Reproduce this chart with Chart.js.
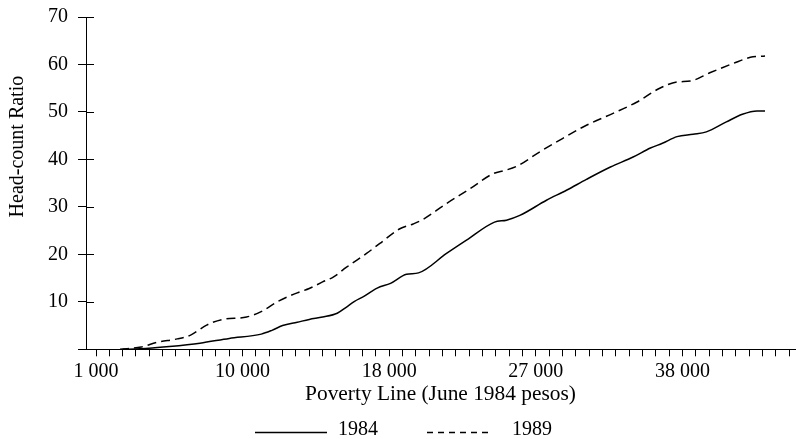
<!DOCTYPE html>
<html>
<head>
<meta charset="utf-8">
<script src="https://cdn.jsdelivr.net/npm/chart.js@4"></script>
<style>
html,body{margin:0;padding:0;background:#fff;}
#wrap{width:796px;height:439px;}
</style>
</head>
<body>
<div id="wrap"><canvas id="c" width="796" height="439"></canvas></div>
<script>
// x positions are in axis-tick units (one unit per minor tick; labelled ticks every 11 units)
const tickLabels = ['1 000', '10 000', '18 000', '27 000', '38 000'];
const tickStep = 11;
const tickCount = 53;

const x1984 = [2.0, 3.3, 5.5, 7.8, 10.0, 12.4, 13.2, 14.0, 15.1, 16.0, 17.0, 18.1, 18.8, 19.4, 20.0, 21.1, 22.1, 23.3, 24.2, 26.3, 27.8, 29.9, 30.8, 31.8, 33.8, 35.3, 36.8, 38.6, 40.3, 41.6, 42.5, 43.6, 44.8, 45.8, 47.3, 48.5, 49.6, 50.2];
const y1984 = [0, 0.1, 0.6, 1.3, 2.3, 3.2, 4.0, 5.0, 5.7, 6.3, 6.8, 7.6, 8.9, 10.1, 11.0, 12.9, 13.9, 15.8, 16.1, 20.2, 23.0, 26.8, 27.2, 28.2, 31.4, 33.5, 35.8, 38.4, 40.5, 42.4, 43.4, 44.8, 45.3, 45.8, 47.9, 49.5, 50.2, 50.2];

const x1989 = [1.8, 3.4, 4.6, 6.1, 7.1, 8.3, 9.5, 11.3, 12.5, 13.6, 15.1, 16.0, 17.0, 17.8, 18.8, 20.3, 21.3, 22.8, 23.8, 24.5, 26.3, 28.1, 29.8, 30.7, 31.6, 33.3, 35.0, 36.8, 38.8, 40.6, 42.3, 43.6, 44.6, 46.1, 47.8, 49.1, 50.2];
const y1989 = [0, 0.5, 1.5, 2.2, 3.0, 5.1, 6.3, 6.8, 8.1, 10.0, 11.9, 12.8, 14.2, 15.2, 17.3, 20.2, 22.3, 25.4, 26.4, 27.3, 30.7, 33.9, 37.0, 37.7, 38.6, 41.6, 44.4, 47.2, 49.7, 52.1, 55.0, 56.3, 56.5, 58.3, 60.2, 61.5, 61.8];

const seriesLabels = ['1984', '1989'];
const yTicks = [0, 10, 20, 30, 40, 50, 60, 70];

const INK = '#000000';
const FAMILY = "'Liberation Serif', 'Times New Roman', serif";
const FONT = {family: FAMILY, size: 20, weight: 'normal'};
Chart.defaults.font = FONT;
Chart.defaults.color = INK;

function pts(xs, ys) { return xs.map((x, i) => ({x: x, y: ys[i]})); }

const innerTicks = {
  id: 'innerTicks',
  afterDraw(chart) {
    const s = chart.scales.y, c = chart.ctx;
    c.save();
    c.strokeStyle = INK; c.lineWidth = 1;
    c.beginPath();
    s.ticks.forEach(t => {
      if (t.value === 0) return;
      const py = Math.round(s.getPixelForValue(t.value)) + 0.5;
      c.moveTo(s.right, py); c.lineTo(s.right + 8, py);
    });
    c.stroke();
    c.restore();
  }
};

const yTitle = {
  id: 'yTitle',
  afterDraw(chart) {
    const c = chart.ctx, a = chart.chartArea;
    c.save();
    c.font = '20px ' + FAMILY;
    c.fillStyle = INK;
    c.textAlign = 'center'; c.textBaseline = 'middle';
    c.translate(18, a.top + (a.bottom - a.top) * 0.39);
    c.rotate(-Math.PI / 2);
    c.fillText('Head-count Ratio', 0, 0);
    c.restore();
  }
};

const bottomLegend = {
  id: 'bottomLegend',
  afterDraw(chart) {
    const c = chart.ctx;
    const items = chart.data.datasets.map((d, i) => ({
      text: d.label, dash: i === 0 ? [] : [6, 5], len: i === 0 ? 72 : 64, gap: i === 0 ? 11 : 21
    }));
    c.save();
    c.font = '20px ' + FAMILY;
    const itemGap = 49;
    let total = 0;
    items.forEach((it, i) => { it.w = c.measureText(it.text).width; total += it.len + it.gap + it.w + (i ? itemGap : 0); });
    let x = Math.round((chart.width - total) / 2) + 5;
    const yLine = chart.height - 6.5, yText = chart.height - 9;
    items.forEach((it, i) => {
      if (i) x += itemGap;
      c.strokeStyle = INK; c.lineWidth = 1.3; c.setLineDash(it.dash);
      c.beginPath(); c.moveTo(x, yLine); c.lineTo(x + it.len, yLine); c.stroke();
      x += it.len + it.gap;
      c.fillStyle = INK; c.textAlign = 'left'; c.textBaseline = 'middle';
      c.fillText(it.text, x, yText);
      x += it.w;
    });
    c.restore();
  }
};

new Chart(document.getElementById('c'), {
  type: 'line',
  data: {
    datasets: [
      {label: seriesLabels[0], data: pts(x1984, y1984), borderColor: INK, borderWidth: 1.5,
       pointRadius: 0, fill: false, cubicInterpolationMode: 'monotone'},
      {label: seriesLabels[1], data: pts(x1989, y1989), borderColor: INK, borderWidth: 1.5,
       borderDash: [9, 5], pointRadius: 0, fill: false, cubicInterpolationMode: 'monotone'}
    ]
  },
  options: {
    responsive: false,
    animation: false,
    layout: {padding: {left: 38, right: 1, top: 17, bottom: 32}},
    plugins: {legend: {display: false}, tooltip: {enabled: false}},
    scales: {
      x: {
        type: 'linear', min: -0.751, max: 52.45,
        afterBuildTicks: s => { s.ticks = Array.from({length: tickCount}, (_, i) => ({value: i})); },
        ticks: {autoSkip: false, maxRotation: 0, padding: 3,
                callback: v => (v % tickStep === 0 ? tickLabels[v / tickStep] : '')},
        grid: {drawOnChartArea: false, tickLength: 7, color: INK, lineWidth: 1},
        border: {color: INK, width: 1},
        title: {display: true, text: 'Poverty Line (June 1984 pesos)', font: {family: FAMILY, size: 21.4},
                padding: {top: -5, bottom: 0}}
      },
      y: {
        min: 0, max: 70,
        afterBuildTicks: s => { s.ticks = yTicks.map(v => ({value: v})); },
        afterFit: s => { s.paddingTop = 0; },
        ticks: {padding: 10, callback: v => (v === 0 ? '' : String(v))},
        grid: {drawOnChartArea: false, tickLength: 8, color: INK, lineWidth: 1},
        border: {color: INK, width: 1}
      }
    }
  },
  plugins: [innerTicks, yTitle, bottomLegend]
});
</script>
</body>
</html>
